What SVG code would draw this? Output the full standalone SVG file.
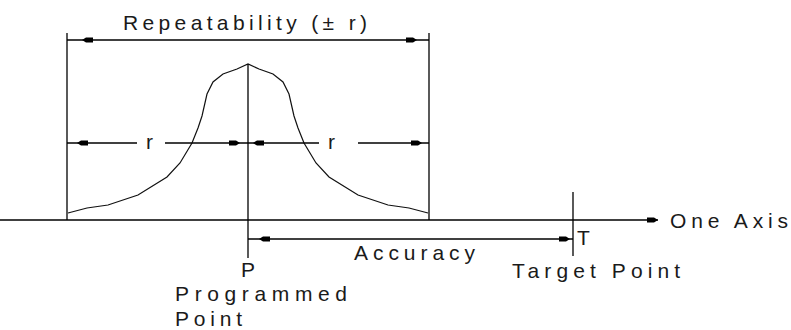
<svg xmlns="http://www.w3.org/2000/svg" width="791" height="330" viewBox="0 0 791 330">
<style>
.ln{stroke:#000;stroke-width:1.3;fill:none}
.cv{stroke:#111;stroke-width:1.2;fill:none;stroke-linejoin:miter}
.t{font-family:"Liberation Sans",Arial,sans-serif;font-size:21px;fill:#1a1a1a}
.ah{fill:#000}
</style>
<defs>
<path id="ahR" class="ah" d="M0,0 L-4,-2.6 L-11,-2.6 L-11,2.6 L-4,2.6 Z"/>
<path id="ahL" class="ah" d="M0,0 L4,-2.6 L11,-2.6 L11,2.6 L4,2.6 Z"/>
</defs>
<g id="axis">
<line class="ln" x1="0" y1="220" x2="658" y2="220"/>
<use href="#ahR" x="658" y="220"/>
<text class="t" x="670" y="228" textLength="118" lengthAdjust="spacing">One Axis</text>
</g>
<g id="curve">
<polyline class="cv" points="68,213 87,208 108,205 138,195 167,177 180,163 192,143 198,128 202,116 207,94 213,82 223,74 237,69 248,64 259,69 273,74 283,82 289,94 294,116 298,128 304,143 316,163 329,177 358,195 388,205 409,208 428,213"/>
</g>
<g id="bounds">
<line class="ln" x1="67" y1="33" x2="67" y2="220"/>
<line class="ln" x1="429" y1="33" x2="429" y2="220"/>
<line class="ln" x1="248" y1="64" x2="248" y2="258"/>
<line class="ln" x1="573" y1="192" x2="573" y2="256"/>
</g>
<g id="connectors">
<line class="ln" x1="67" y1="40" x2="429" y2="40"/>
<use href="#ahL" x="82" y="40"/>
<use href="#ahR" x="417" y="40"/>
<line class="ln" x1="67" y1="143" x2="137" y2="143"/>
<line class="ln" x1="165" y1="143" x2="248" y2="143"/>
<use href="#ahL" x="77" y="143"/>
<use href="#ahR" x="240" y="143"/>
<line class="ln" x1="248" y1="143" x2="319" y2="143"/>
<line class="ln" x1="358" y1="143" x2="429" y2="143"/>
<use href="#ahL" x="253" y="143"/>
<use href="#ahR" x="422" y="143"/>
<line class="ln" x1="248" y1="239" x2="573" y2="239"/>
<use href="#ahL" x="259" y="239"/>
<use href="#ahR" x="570" y="239"/>
</g>
<g id="labels">
<text class="t" x="123" y="30" textLength="244" lengthAdjust="spacing">Repeatability (± r)</text>
<text class="t" x="146" y="149">r</text>
<text class="t" x="328" y="149">r</text>
<text class="t" x="354" y="260" textLength="121" lengthAdjust="spacing">Accuracy</text>
<text class="t" x="577" y="245">T</text>
<text class="t" x="241" y="277">P</text>
<text class="t" x="512" y="278" textLength="168" lengthAdjust="spacing">Target Point</text>
<text class="t" x="175" y="301" textLength="172" lengthAdjust="spacing">Programmed</text>
<text class="t" x="175" y="326" textLength="67" lengthAdjust="spacing">Point</text>
</g>
</svg>
